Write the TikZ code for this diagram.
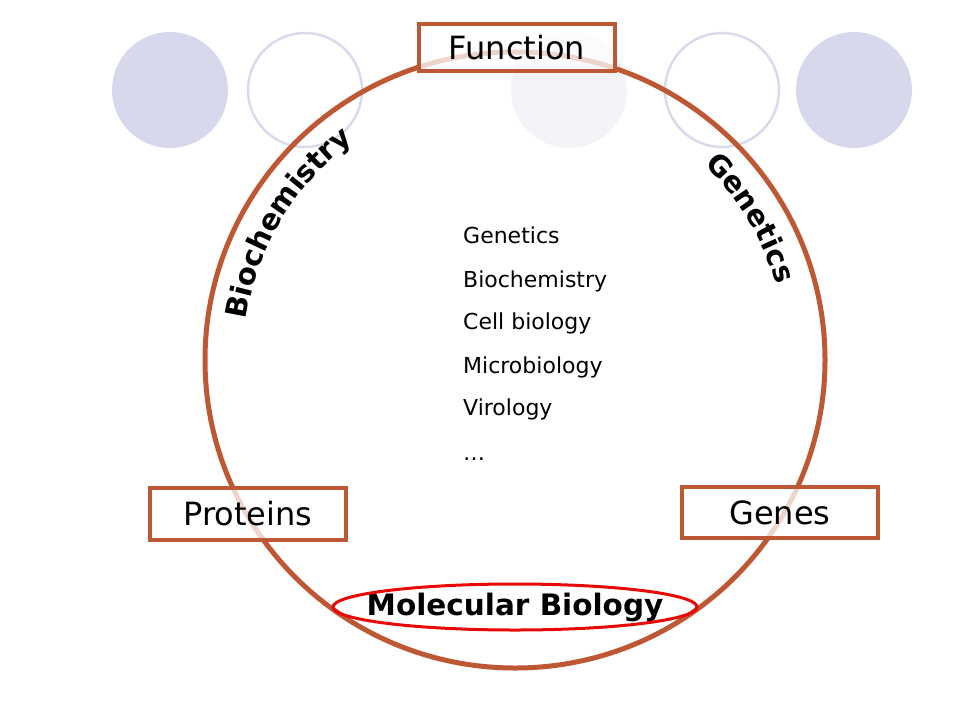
\documentclass[tikz,border=0pt]{standalone}
\usepackage{fontspec}
\setmainfont{DejaVu Sans}
\usetikzlibrary{decorations.text}
\definecolor{rust}{RGB}{190,88,52}
\definecolor{lav}{RGB}{216,216,236}
\definecolor{lavline}{RGB}{218,218,236}
\definecolor{lavpale}{RGB}{243,243,248}
\definecolor{hired}{RGB}{232,8,8}
\newcommand{\arcfont}{\fontsize{29}{31}\selectfont\bfseries}
\begin{document}
\begin{tikzpicture}[x=1pt,y=1pt,
  dfill/.style={circle, minimum size=116pt, inner sep=0pt, fill=lav},
  dring/.style={circle, minimum size=114pt, inner sep=0pt, draw=lavline, line width=2.5pt},
  topicbox/.style={draw=rust, line width=4.5pt, fill=white, fill opacity=0.75, text opacity=1, draw opacity=1,
    minimum width=196pt, inner sep=0pt, font=\fontsize{32}{36}\selectfont},
  listtext/.style={anchor=base west, inner sep=0pt, font=\fontsize{22}{26}\selectfont},
  arclabel/.style={decorate, decoration={text along path, text align=center}}]
\useasboundingbox (0,0) rectangle (960,-720);
% decorative circles
\node[dfill] (c1) at (170,-90) {};
\node[dring] (c2) at (305,-90) {};
\node[dfill, fill=lavpale] (c3) at (569,-90) {};
\node[dring] (c4) at (722,-90) {};
\node[dfill] (c5) at (854,-90) {};
% main cycle
\coordinate (ctr) at (515,-360);
\draw[rust, line width=5pt] (ctr) ellipse [x radius=310, y radius=308];
% curved labels
\path[arclabel, decoration={text={|\arcfont|Biochemistry}}]
  (ctr) ++(179:272) arc[start angle=179, end angle=119, radius=272];
\path[arclabel, decoration={text={|\arcfont|Genetics}}]
  (ctr) ++(58:272) arc[start angle=58, end angle=4, radius=272];
% boxes
\node[topicbox, minimum height=47pt] (func) at (517,-47.5) {Function};
\node[topicbox, minimum height=52pt] (prot) at (248,-514) {Proteins};
\node[topicbox, minimum height=51pt] (gene) at (780,-512.5) {Genes};
% molecular biology
\node[inner sep=0pt, font=\fontsize{29.5}{32}\selectfont\bfseries] (molbio) at (515,-607) {Molecular Biology};
\draw[hired, line width=3pt] (molbio.center) ellipse [x radius=182, y radius=23];
% list
\node[listtext] (l1) at (463,-243) {Genetics};
\node[listtext] (l2) at (463,-287) {Biochemistry};
\node[listtext] (l3) at (463,-329) {Cell biology};
\node[listtext] (l4) at (463,-373) {Microbiology};
\node[listtext] (l5) at (463,-415) {Virology};
\node[listtext] (l6) at (463,-460) {…};
\end{tikzpicture}
\end{document}
